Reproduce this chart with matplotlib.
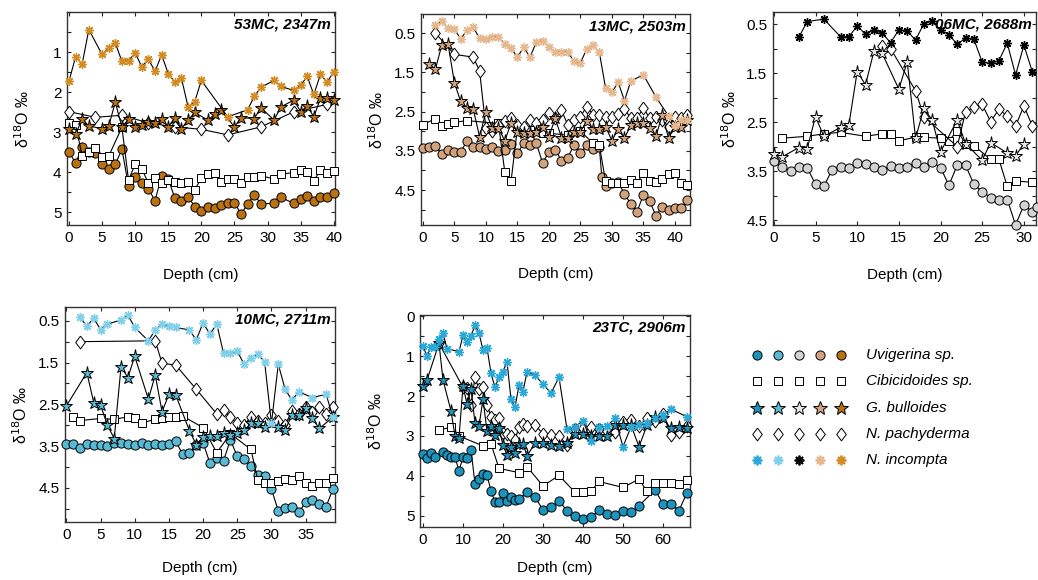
import matplotlib
matplotlib.use("Agg")
import matplotlib.pyplot as plt
from matplotlib.ticker import MultipleLocator, FixedLocator

plt.rcParams['font.family'] = ['Liberation Sans', 'DejaVu Sans']

# ---------------- data ----------------
# 53MC, 2347m
mc53_uvi_x = [0,1,2,3,4,5,6,7,8,9,10,11,12,13,14,15,16,17,18,19,20,21,22,23,24,25,26,27,28,29,31,32,34,35,36,37,38,39,40]
mc53_uvi_y = [3.49,3.78,3.37,3.49,3.51,3.80,3.93,3.80,3.43,4.34,4.11,4.26,4.42,4.71,4.10,4.17,4.65,4.73,4.61,4.86,4.98,4.86,4.90,4.82,4.78,4.76,5.05,4.79,4.57,4.79,4.78,4.63,4.78,4.67,4.59,4.73,4.63,4.63,4.53]
mc53_cib_x = [0,1,2,3,4,5,6,8,9,10,11,12,13,14,15,16,17,18,19,20,21,22,23,24,25,26,27,28,29,31,32,34,35,36,37,38,39,40]
mc53_cib_y = [2.77,2.83,3.60,3.49,3.39,3.61,3.60,2.88,4.20,3.80,3.91,4.28,4.15,4.28,4.20,4.24,4.28,4.24,4.44,4.15,4.05,4.01,4.24,4.18,4.18,4.26,4.11,4.11,4.09,4.17,4.05,4.01,3.95,3.99,4.21,3.95,4.03,3.96]
mc53_bul_x = [0,1,2,3,5,6,7,8,9,10,11,12,13,14,15,16,17,18,19,21,22,23,25,26,28,29,31,32,34,35,36,37,38,39,40]
mc53_bul_y = [2.91,3.05,2.67,2.85,2.91,2.85,2.25,2.88,2.67,2.87,2.83,2.74,2.78,2.68,2.87,2.64,2.91,2.70,2.51,2.70,2.56,2.45,2.87,2.64,2.66,2.39,2.70,2.37,2.20,2.49,2.35,2.62,2.16,2.16,2.20]
mc53_pac_x = [0,4,8,12,16,20,24,29,34,39]
mc53_pac_y = [2.49,2.63,2.58,2.77,2.87,2.93,3.07,2.87,2.49,2.31]
mc53_inc_x = [0,1,2,3,5,6,7,8,9,10,11,12,13,14,15,16,17,18,19,20,24,27,28,29,31,32,34,35,36,37,38,39,40]
mc53_inc_y = [1.73,1.12,1.29,0.44,1.06,0.90,0.78,1.23,1.22,1.02,1.37,1.18,1.48,1.07,1.54,1.75,1.66,2.37,2.24,1.71,2.62,2.44,2.11,1.88,1.71,1.86,1.96,1.83,1.61,2.06,1.56,1.75,1.50]

# 13MC, 2503m
mc13_uvi_x = [0,1,2,3,4,5,6,7,8,9,10,11,12,13,14,15,16,17,18,19,20,21,22,23,24,25,26,27,28,28.4,29,30,31,32,33,34,35,36,37,38,39,40,41,42]
mc13_uvi_y = [3.43,3.41,3.37,3.58,3.49,3.52,3.52,3.25,3.41,3.41,3.46,3.41,3.50,3.48,3.33,3.56,3.31,3.35,3.31,3.80,3.54,3.47,3.75,3.67,3.35,3.56,3.35,3.46,3.39,4.16,4.39,4.33,4.29,4.60,4.85,5.05,4.62,4.78,5.16,4.92,5.01,4.96,4.96,4.75]
mc13_cib_x = [0,2,3,4,5,7,12,13,14,15,17,19,20,23,25,27,28,29,30,31,32,33,34,35,36,37,38,39,40,41,42]
mc13_cib_y = [2.83,2.68,2.87,2.81,2.77,2.73,2.80,4.04,4.27,2.92,2.98,3.05,3.05,3.10,3.00,3.30,3.35,4.28,4.31,4.31,4.33,4.24,4.31,4.07,4.26,4.30,4.21,4.09,4.07,4.33,4.37]
mc13_bul_x = [1,2,3,4,5,6,7,8,9,10,11,12,13,14,15,16,17,18,19,20,21,22,23,24,25,26,27,28,29,30,31,32,33,34,35,36,37,38,39,40,41,42]
mc13_bul_y = [1.29,1.41,0.80,0.78,1.76,2.24,2.41,2.44,3.14,2.50,2.92,2.92,3.24,2.80,3.01,3.05,3.05,3.01,2.88,3.14,2.67,3.16,3.18,3.01,3.01,2.75,2.94,2.94,2.88,3.24,2.94,3.18,2.84,2.80,2.80,2.92,3.12,2.58,3.18,2.88,2.88,2.71]
mc13_pac_x = [2,5,8,9,10,11,12,13,14,15,16,17,18,19,20,21,22,23,24,25,26,27,28,29,30,31,32,33,34,35,36,37,38,39,40,41,42]
mc13_pac_y = [0.50,1.04,1.11,1.46,2.92,3.00,2.84,2.75,2.67,2.84,2.88,2.71,2.80,2.71,2.54,2.67,2.46,2.84,2.71,2.63,2.37,2.58,2.58,2.63,2.63,2.56,2.43,2.67,2.67,2.40,2.67,2.63,2.71,2.88,2.63,2.67,2.58]
mc13_inc_x = [2,3,4,5,6,7,8,9,10,11,12,13,14,15,16,17,18,19,20,21,22,23,24,25,26,27,28,29,30,31,32,33,35,37,39,40,41,42]
mc13_inc_y = [0.29,0.20,0.37,0.39,0.65,0.42,0.35,0.63,0.65,0.59,0.59,0.78,0.88,1.11,0.86,1.11,0.73,0.69,0.86,0.97,0.98,0.98,1.22,1.26,0.90,0.81,0.98,1.90,2.01,1.75,2.22,1.72,1.56,2.13,2.61,2.84,2.71,2.71]

# 06MC, 2688m
mc06_uvi_x = [0,1,2,3,4,5,6,7,8,9,10,11,12,13,14,15,16,17,18,19,20,21,22,23,24,25,26,27,28,29,30,31,31.6]
mc06_uvi_y = [3.30,3.41,3.49,3.41,3.43,3.77,3.81,3.47,3.41,3.43,3.34,3.36,3.41,3.48,3.40,3.43,3.41,3.33,3.41,3.31,3.43,3.79,3.38,3.38,3.77,3.92,4.04,4.08,4.08,4.60,4.19,4.33,4.23]
mc06_cib_x = [1,4,6,8,11,13,14,15,17,18,20,21,22,23,24,26,27,28,29,31]
mc06_cib_y = [2.83,2.79,2.74,2.71,2.79,2.74,2.74,2.88,2.81,2.81,2.83,2.88,2.68,2.94,2.98,3.26,3.26,3.81,3.70,3.73]
mc06_bul_x = [0,1,3,4,5,6,8,9,10,11,12,13,15,16,17,18,19,20,22,23,25,26,28,29,30]
mc06_bul_y = [3.15,3.21,3.02,3.04,2.39,2.79,2.61,2.56,1.47,1.74,1.06,1.10,1.83,1.27,2.83,2.22,2.46,3.11,2.46,2.94,3.28,2.92,3.13,3.19,2.94]
mc06_pac_x = [13,14,17,18,22,23,24,25,26,27,28,29,30,31]
mc06_pac_y = [0.95,1.00,1.86,2.39,3.00,2.29,2.20,2.14,2.49,2.24,2.38,2.58,2.17,2.58]
mc06_inc_x = [3,4,6,8,9,10,11,12,13,14,15,16,17,18,19,20,21,22,23,24,25,26,27,28,29,30,31]
mc06_inc_y = [0.77,0.45,0.40,0.76,0.76,0.54,0.71,0.62,0.69,0.88,0.62,0.64,0.83,0.49,0.44,0.62,0.72,0.91,0.79,0.81,1.28,1.30,1.25,0.89,1.54,0.93,1.47]

# 10MC, 2711m
mc10_uvi_x = list(range(0, 40))
mc10_uvi_y = [3.45,3.45,3.55,3.45,3.47,3.47,3.51,3.43,3.43,3.45,3.47,3.43,3.47,3.45,3.47,3.45,3.39,3.69,3.66,3.47,3.42,3.91,3.79,3.85,3.35,3.75,3.82,3.99,4.19,4.23,4.53,5.05,4.99,4.97,5.09,4.85,4.79,4.89,4.95,4.53]
mc10_cib_x = [1,2,5,7,9,10,11,13,14,15,16,17,20,22,24,27,28,29,30,31,32,33,34,35,36,37,38,39]
mc10_cib_y = [2.80,2.89,2.84,2.86,2.80,2.84,2.96,2.85,2.84,2.81,2.81,2.78,3.06,3.66,3.21,3.58,4.31,4.39,4.38,4.33,4.30,4.31,4.23,4.38,4.46,4.38,4.38,4.27]
mc10_bul_x = [0,3,4,5,6,7,8,9,10,12,13,14,15,16,18,19,20,21,22,23,24,25,26,27,28,29,31,32,33,34,35,36,37,39]
mc10_bul_y = [2.54,1.74,2.46,2.52,3.00,3.32,1.60,1.86,1.35,2.38,1.80,2.68,2.26,2.28,3.13,3.47,3.29,3.26,3.26,3.18,3.24,3.18,3.12,2.96,2.96,3.05,3.05,3.12,2.76,2.76,2.60,2.84,3.08,2.81]
mc10_pac_x = [2,13,14,16,19,22,23,24,25,26,27,28,29,30,31,32,33,34,35,36,37,38,39]
mc10_pac_y = [1.00,0.98,1.52,1.56,2.14,2.73,2.64,2.81,2.96,3.00,2.80,2.89,2.94,2.76,2.89,3.00,2.65,2.73,2.56,2.68,2.56,2.73,2.57]
mc10_inc_x = [2,3,4,5,6,8,9,10,12,13,14,15,16,18,19,20,21,22,23,24,25,26,27,28,29,30,31,32,33,34,36,38,39]
mc10_inc_y = [0.42,0.63,0.44,0.71,0.58,0.48,0.36,0.66,0.98,0.72,0.58,0.63,0.66,0.72,0.96,0.55,0.82,0.58,1.28,1.27,1.23,1.54,1.40,1.30,1.48,2.96,1.54,2.14,2.40,2.20,2.34,2.26,2.81]

# 23TC, 2906m
tc23_uvi_x = [0,1,2,3,5,6,7,8,9,10,11,12,13,14,15,16,17,18,19,20,21,22,23,24,26,28,30,32,34,36,38,40,42,44,46,48,50,52,54,58,60,62,64,66]
tc23_uvi_y = [3.45,3.54,3.43,3.52,3.39,3.48,3.53,3.53,3.87,3.53,3.55,3.35,4.20,4.08,3.95,3.98,4.37,4.66,4.66,4.42,4.63,4.52,4.60,4.58,4.41,4.53,4.85,4.77,4.63,4.87,5.00,5.08,5.03,4.85,4.95,4.98,4.87,4.91,4.75,4.35,4.70,4.70,4.87,4.42]
tc23_cib_x = [4,7,9,15,17,19,24,26,30,34,38,40,42,44,50,54,56,58,60,62,64,66]
tc23_cib_y = [2.85,2.78,3.00,3.25,3.20,3.81,3.92,3.77,4.25,3.99,4.41,4.41,4.39,4.14,4.29,4.08,4.39,4.18,4.17,4.18,4.20,4.10]
tc23_bul_x = [0,1,4,5,7,8,9,10,11,12,13,14,15,16,17,18,19,20,21,22,23,24,25,26,28,30,32,34,36,38,40,42,44,46,48,50,52,54,56,58,60,62,64,66]
tc23_bul_y = [1.75,1.60,0.68,1.60,2.37,3.00,3.04,1.75,2.20,1.83,2.67,2.75,2.08,2.88,2.75,2.98,2.81,3.23,3.48,3.27,3.43,3.20,3.20,3.50,3.18,3.18,3.23,3.24,3.17,2.95,2.95,3.00,3.00,3.00,2.73,2.73,2.73,3.27,2.73,2.53,2.56,2.81,2.77,2.80]
tc23_pac_x = [4,10,11,12,13,14,15,16,17,18,19,20,21,22,23,24,25,26,28,30,32,34,36,38,40,42,44,46,48,50,52,54,56,58,60,62,64,66]
tc23_pac_y = [0.68,1.78,1.80,2.22,1.53,1.83,1.78,2.22,2.52,2.60,2.55,2.93,2.95,3.00,3.10,2.77,2.70,2.75,2.72,2.95,2.97,3.00,3.22,2.83,2.80,2.77,2.83,2.87,2.90,2.65,2.60,2.75,2.55,2.62,2.45,2.98,2.90,2.76]
tc23_inc_x = [0,1,2,3,4,5,6,9,10,11,12,13,14,15,16,17,18,19,20,21,22,23,24,25,26,28,30,32,34,36,38,40,42,44,46,48,50,52,54,56,58,60,62,66]
tc23_inc_y = [0.75,1.00,0.77,0.77,0.56,0.43,0.81,0.89,0.48,0.64,0.50,0.23,0.42,0.85,0.79,1.43,1.78,1.53,1.39,1.14,2.08,2.28,1.73,1.89,1.39,1.48,1.70,1.93,1.53,2.83,2.77,2.62,3.13,2.78,2.75,2.56,3.27,2.77,2.73,2.68,2.56,2.48,2.33,2.52]

species = ["Uvigerina sp.", "Cibicidoides sp.", "G. bulloides", "N. pachyderma", "N. incompta"]
core_titles = ["53MC, 2347m", "13MC, 2503m", "06MC, 2688m", "10MC, 2711m", "23TC, 2906m"]

# colours per core: (benthic/star fill, incompta colour)
col_23 = ('#1a94bd', '#2aa9d9')
col_10 = ('#58b9d4', '#80d0ea')
col_06 = ('#d3d3d3', '#000000')
col_13 = ('#d2a27a', '#e5b88e')
col_53 = ('#b9720f', '#d38b24')
star_06 = '#e8e8e8'

# ---------------- figure ----------------
W, H = 1038, 580
fig = plt.figure(figsize=(W / 100, H / 100), dpi=100)

def add_ax(l, r, t, b):
    return fig.add_axes([l / W, 1 - b / H, (r - l) / W, (b - t) / H])

LW = 0.8
ASTER = (8, 2, 0)
DIAM = [(0, 1), (0.75, 0), (0, -1), (-0.75, 0), (0, 1)]
DMS = 9.2

def draw(ax, ux, uy, cx, cy, bx, by, px, py, ix, iy, fill, inc, starfill=None):
    sf = starfill if starfill else fill
    ax.plot(ux, uy, '-', color='k', lw=LW, marker='o', ms=6.6, mfc=fill,
            mec='k', mew=0.7, clip_on=False, zorder=3)
    ax.plot(cx, cy, '-', color='k', lw=LW, marker='s', ms=5.6, mfc='white',
            mec='k', mew=0.7, clip_on=False, zorder=3)
    ax.plot(px, py, '-', color='k', lw=LW, marker=DIAM, ms=DMS, mfc='white',
            mec='k', mew=0.7, clip_on=False, zorder=4)
    ax.plot(bx, by, '-', color='k', lw=LW, marker='*', ms=9.5, mfc=sf,
            mec='k', mew=0.7, clip_on=False, zorder=5)
    ax.plot(ix, iy, '-', color='k', lw=LW, marker=ASTER, ms=6.2, mfc=inc,
            mec=inc, mew=1.0, clip_on=False, zorder=6)

def style(ax, xlim, ylim, xmaj, ymaj, ymin, title, xlab_y, ylab_x=-0.13):
    ax.set_xlim(*xlim)
    ax.set_ylim(*ylim)
    ax.xaxis.set_major_locator(MultipleLocator(xmaj))
    ax.yaxis.set_major_locator(FixedLocator(ymaj))
    ax.yaxis.set_minor_locator(MultipleLocator(ymin))
    ax.tick_params(which='both', direction='in', top=True, right=True,
                   length=3.2, width=0.8, labelsize=11, pad=4, colors='#222222',
                   labelcolor='black')
    for s in ax.spines.values():
        s.set_linewidth(1.0)
        s.set_color('#333333')
    ax.set_xlabel('Depth (cm)', fontsize=11)
    ax.set_ylabel('δ$^{18}$O ‰', fontsize=11.5)
    ax.xaxis.set_label_coords(0.5, xlab_y)
    ax.yaxis.set_label_coords(ylab_x, 0.5)
    ax.text(0.985, 0.975, title, transform=ax.transAxes, ha='right', va='top',
            fontsize=11, fontweight='bold', fontstyle='italic', zorder=10)

# 53MC
ax1 = add_ax(67, 335, 12, 225)
draw(ax1, mc53_uvi_x, mc53_uvi_y, mc53_cib_x, mc53_cib_y, mc53_bul_x, mc53_bul_y,
     mc53_pac_x, mc53_pac_y, mc53_inc_x, mc53_inc_y, *col_53)
style(ax1, (-0.3, 40.2), (5.32, 0.0), 5, [1, 2, 3, 4, 5], 0.5, core_titles[0], -0.2)

# 13MC
ax2 = add_ax(421, 690, 14, 225)
draw(ax2, mc13_uvi_x, mc13_uvi_y, mc13_cib_x, mc13_cib_y, mc13_bul_x, mc13_bul_y,
     mc13_pac_x, mc13_pac_y, mc13_inc_x, mc13_inc_y, *col_13)
style(ax2, (-0.3, 42.4), (5.39, 0.01), 5, [0.5, 1.5, 2.5, 3.5, 4.5], 0.5, core_titles[1], -0.2)

# 06MC
ax3 = add_ax(773, 1036, 12, 225)
draw(ax3, mc06_uvi_x, mc06_uvi_y, mc06_cib_x, mc06_cib_y, mc06_bul_x, mc06_bul_y,
     mc06_pac_x, mc06_pac_y, mc06_inc_x, mc06_inc_y, *col_06, starfill=star_06)
style(ax3, (-0.1, 31.45), (4.60, 0.255), 5, [0.5, 1.5, 2.5, 3.5, 4.5], 0.5, core_titles[2], -0.2)

# 10MC
ax4 = add_ax(65, 335, 307, 522)
draw(ax4, mc10_uvi_x, mc10_uvi_y, mc10_cib_x, mc10_cib_y, mc10_bul_x, mc10_bul_y,
     mc10_pac_x, mc10_pac_y, mc10_inc_x, mc10_inc_y, *col_10)
style(ax4, (-0.2, 39.3), (5.32, 0.17), 5, [0.5, 1.5, 2.5, 3.5, 4.5], 0.5, core_titles[3], -0.18)

# 23TC
ax5 = add_ax(420, 690, 315, 527)
draw(ax5, tc23_uvi_x, tc23_uvi_y, tc23_cib_x, tc23_cib_y, tc23_bul_x, tc23_bul_y,
     tc23_pac_x, tc23_pac_y, tc23_inc_x, tc23_inc_y, *col_23)
style(ax5, (-0.75, 66.75), (5.28, -0.03), 10, [0, 1, 2, 3, 4, 5], 0.5, core_titles[4], -0.16)

# legend
lax = add_ax(740, 1038, 342, 473)
lax.set_xlim(-0.8, 13.4)
lax.set_ylim(4.5, -0.5)
lax.axis('off')
fills = [col_23[0], col_10[0], col_06[0], col_13[0], col_53[0]]
star_fills = [col_23[0], col_10[0], star_06, col_13[0], col_53[0]]
incs = [col_23[1], col_10[1], col_06[1], col_13[1], col_53[1]]
for j in range(5):
    lax.plot([j], [0], 'o', ms=6.6, mfc=fills[j], mec='k', mew=0.7)
    lax.plot([j], [1], 's', ms=5.6, mfc='white', mec='k', mew=0.7)
    lax.plot([j], [2], '*', ms=10.5, mfc=star_fills[j], mec='k', mew=0.7)
    lax.plot([j], [3], marker=DIAM, ms=DMS, mfc='white', mec='k', mew=0.7)
    lax.plot([j], [4], marker=ASTER, ms=7, mfc=incs[j], mec=incs[j], mew=1.3)
for i, name in enumerate(species):
    lax.text(5.2, i, name, fontsize=11, fontstyle='italic', va='center', ha='left')

fig.savefig('out.png', dpi=100)
